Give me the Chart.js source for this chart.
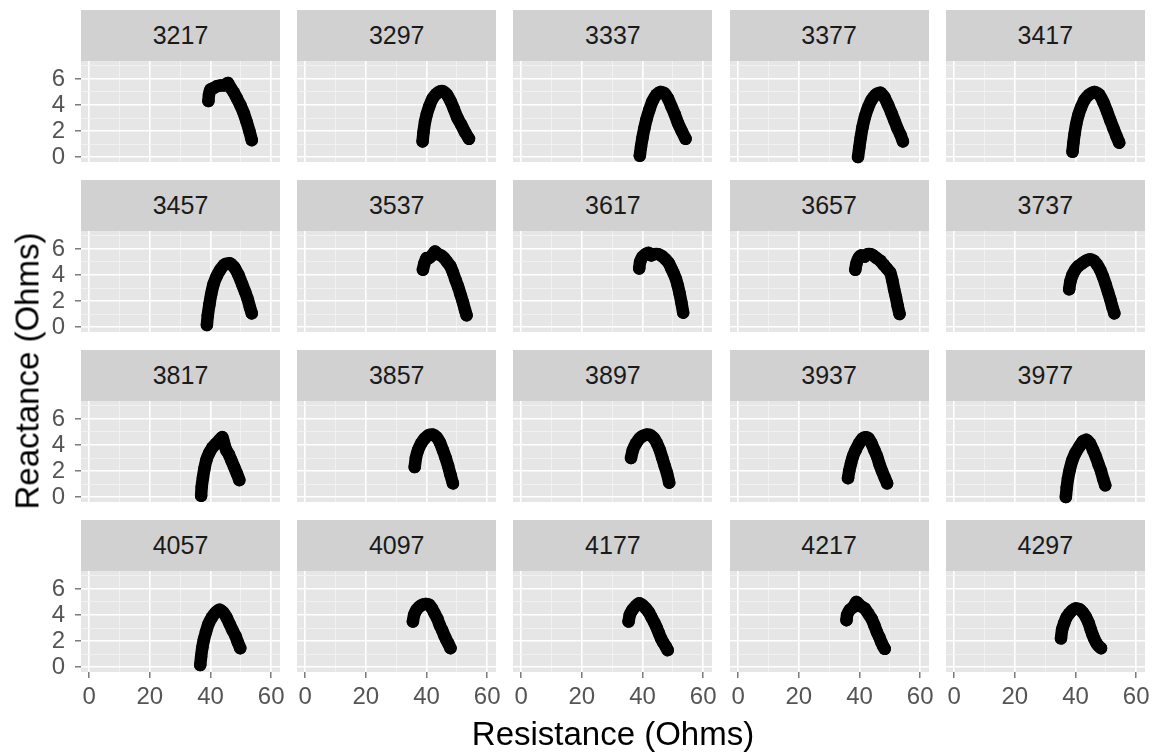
<!DOCTYPE html>
<html>
<head>
<meta charset="utf-8">
<script src="https://cdn.jsdelivr.net/npm/chart.js@4/dist/chart.umd.min.js"></script>
<style>
  body { margin: 0; background: #fff; width: 1164px; height: 753px; position: relative; overflow: hidden;
         font-family: "Liberation Sans", Arial, sans-serif; }
  .strip { position: absolute; background: #D1D1D1; color: #1A1A1A; font-size: 25px;
           display: flex; align-items: center; justify-content: center; }
  .panel { position: absolute; }
  .title { position: absolute; color: #000; font-size: 33px; line-height: 1; white-space: nowrap; }
</style>
</head>
<body>
<div id="wrap"></div>
<div class="title" id="xTitle" style="left:613px;top:733px;transform:translate(-50%,-50%)">Resistance (Ohms)</div>
<div class="title" id="yTitle" style="left:27px;top:371px;transform:translate(-50%,-50%) rotate(-90deg)">Reactance (Ohms)</div>
<script>
// ***** Data *****
const panelIds = ['3217', '3297', '3337', '3377', '3417',
                  '3457', '3537', '3617', '3657', '3737',
                  '3817', '3857', '3897', '3937', '3977',
                  '4057', '4097', '4177', '4217', '4297'];

// Resistance (Ohms) per panel, same order as panelIds
const resistance = [
  [39.3, 39.5, 40.0, 41.0, 42.2, 43.3, 44.5, 45.7, 46.7, 47.7, 48.7, 49.8, 50.9, 51.9, 52.8, 53.6],
  [38.7, 39.0, 39.5, 40.1, 40.9, 42.0, 43.2, 44.5, 45.5, 46.7, 47.9, 49.0, 50.2, 51.4, 52.7, 54.0],
  [39.1, 39.5, 40.0, 40.6, 41.3, 42.2, 43.3, 44.6, 46.0, 47.2, 48.4, 49.5, 50.6, 51.7, 52.9, 54.2],
  [39.5, 39.9, 40.4, 41.0, 41.8, 42.8, 44.0, 45.4, 46.9, 48.2, 49.4, 50.5, 51.5, 52.5, 53.5, 54.3],
  [39.0, 39.3, 39.7, 40.2, 40.9, 41.8, 43.0, 44.5, 46.3, 47.8, 49.2, 50.4, 51.5, 52.5, 53.5, 54.4],
  [38.8, 39.1, 39.6, 40.2, 41.0, 42.0, 43.2, 44.6, 46.3, 47.8, 49.2, 50.4, 51.4, 52.3, 53.0, 53.6],
  [38.8, 39.3, 40.0, 40.8, 41.8, 42.8, 43.8, 44.8, 45.8, 46.8, 47.8, 48.7, 49.6, 50.4, 51.2, 52.0, 52.7, 53.2],
  [38.9, 39.2, 40.0, 41.0, 42.0, 42.9, 44.0, 45.2, 46.4, 47.6, 48.7, 49.5, 50.3, 51.0, 51.6, 52.2, 52.8, 53.4],
  [38.6, 39.0, 39.7, 40.6, 41.6, 42.6, 43.6, 44.5, 45.6, 46.8, 47.9, 49.0, 50.1, 50.8, 51.4, 52.0, 52.6, 53.2],
  [37.9, 38.3, 39.0, 39.9, 41.0, 42.2, 43.5, 44.8, 46.0, 47.1, 48.1, 49.0, 49.9, 50.7, 51.5, 52.2, 52.8],
  [36.9, 37.1, 37.5, 38.0, 38.7, 39.6, 40.6, 41.8, 43.0, 43.9, 44.5, 45.2, 46.0, 46.9, 47.8, 48.7, 49.5],
  [36.1, 36.5, 37.2, 38.2, 39.4, 40.7, 42.1, 43.3, 44.4, 45.4, 46.3, 47.1, 47.9, 48.7],
  [36.2, 36.8, 37.8, 39.0, 40.2, 41.4, 42.6, 43.8, 44.8, 45.7, 46.5, 47.3, 48.1, 48.8],
  [36.2, 36.6, 37.2, 37.8, 38.7, 39.8, 41.0, 42.0, 43.0, 44.0, 44.9, 45.8, 46.6, 47.4, 48.3, 49.1],
  [36.8, 37.1, 37.5, 38.1, 38.9, 40.0, 41.3, 42.5, 43.6, 44.8, 45.8, 46.7, 47.6, 48.4, 49.1, 49.8],
  [36.6, 36.9, 37.3, 37.8, 38.5, 39.3, 40.4, 41.7, 43.0, 44.2, 45.3, 46.3, 47.3, 48.2, 49.0, 49.8],
  [35.5, 35.9, 36.7, 37.7, 38.8, 39.8, 40.8, 41.8, 42.7, 43.6, 44.4, 45.2, 45.9, 46.5, 47.2, 47.9],
  [35.4, 35.8, 36.7, 37.8, 38.9, 40.0, 41.1, 42.1, 43.0, 43.9, 44.7, 45.4, 46.1, 46.8, 47.6, 48.3],
  [35.7, 35.9, 36.8, 37.9, 39.0, 40.3, 41.7, 42.9, 44.0, 44.9, 45.7, 46.5, 47.2, 47.8, 48.3],
  [35.2, 35.6, 36.3, 37.0, 37.9, 38.9, 40.1, 41.3, 42.4, 43.4, 44.3, 45.0, 45.6, 46.3, 47.0, 47.7, 48.4]
];

// Reactance (Ohms) per panel
const reactance = [
  [4.3, 4.8, 5.2, 5.3, 5.45, 5.5, 5.5, 5.7, 5.3, 4.95, 4.5, 4.0, 3.4, 2.7, 2.0, 1.3],
  [1.2, 1.9, 2.7, 3.3, 3.9, 4.5, 4.85, 5.05, 5.05, 4.8, 4.3, 3.7, 3.0, 2.5, 1.9, 1.4],
  [0.1, 0.8, 1.5, 2.2, 2.9, 3.6, 4.3, 4.8, 5.0, 4.9, 4.5, 3.9, 3.3, 2.6, 2.0, 1.4],
  [0.0, 0.7, 1.5, 2.3, 3.1, 3.8, 4.4, 4.8, 4.95, 4.6, 4.0, 3.4, 2.8, 2.2, 1.7, 1.2],
  [0.4, 1.1, 1.8, 2.5, 3.2, 3.8, 4.4, 4.8, 5.0, 4.8, 4.2, 3.5, 2.8, 2.2, 1.6, 1.1],
  [0.15, 0.9, 1.7, 2.5, 3.3, 3.9, 4.4, 4.8, 4.9, 4.6, 4.0, 3.3, 2.7, 2.1, 1.5, 1.05],
  [4.4, 4.9, 5.3, 5.3, 5.5, 5.8, 5.6, 5.5, 5.3, 5.0, 4.7, 4.2, 3.6, 3.1, 2.5, 1.9, 1.3, 0.9],
  [4.5, 5.0, 5.4, 5.6, 5.7, 5.5, 5.6, 5.6, 5.45, 5.2, 4.9, 4.5, 4.1, 3.7, 3.2, 2.6, 1.9, 1.1],
  [4.4, 4.9, 5.3, 5.5, 5.4, 5.6, 5.6, 5.5, 5.3, 5.1, 4.8, 4.5, 4.2, 3.6, 2.9, 2.3, 1.6, 1.0],
  [2.9, 3.5, 4.0, 4.4, 4.7, 4.9, 5.1, 5.2, 5.1, 4.8, 4.4, 3.9, 3.3, 2.7, 2.1, 1.5, 1.05],
  [0.1, 0.8, 1.5, 2.2, 2.9, 3.4, 3.8, 4.1, 4.4, 4.6, 4.1, 3.6, 3.3, 2.8, 2.3, 1.8, 1.3],
  [2.3, 3.0, 3.6, 4.1, 4.5, 4.75, 4.8, 4.6, 4.2, 3.6, 3.0, 2.4, 1.7, 1.05],
  [3.0, 3.6, 4.1, 4.5, 4.7, 4.8, 4.75, 4.5, 4.1, 3.6, 3.0, 2.4, 1.8, 1.1],
  [1.45, 2.0, 2.6, 3.1, 3.6, 4.1, 4.5, 4.6, 4.5, 4.1, 3.6, 3.1, 2.5, 2.0, 1.5, 1.05],
  [0.0, 0.7, 1.4, 2.1, 2.8, 3.4, 3.9, 4.3, 4.4, 4.1, 3.6, 3.1, 2.5, 2.0, 1.4, 0.9],
  [0.15, 0.8, 1.5, 2.1, 2.7, 3.3, 3.8, 4.2, 4.4, 4.2, 3.8, 3.3, 2.8, 2.4, 1.9, 1.45],
  [3.5, 4.0, 4.4, 4.65, 4.8, 4.85, 4.8, 4.5, 4.1, 3.7, 3.2, 2.8, 2.4, 2.1, 1.8, 1.45],
  [3.5, 4.0, 4.4, 4.7, 4.9, 4.75, 4.5, 4.2, 3.8, 3.4, 3.0, 2.6, 2.2, 1.9, 1.6, 1.3],
  [3.6, 4.0, 4.4, 4.6, 5.0, 4.7, 4.5, 4.1, 3.7, 3.2, 2.7, 2.3, 1.9, 1.6, 1.4],
  [2.2, 2.9, 3.4, 3.8, 4.1, 4.35, 4.5, 4.45, 4.2, 3.85, 3.4, 2.9, 2.5, 2.1, 1.8, 1.6, 1.45]
];

// Axis ticks (labelled) and grid lines
const xTickLabels = [0, 20, 40, 60];
const yTickLabels = [0, 2, 4, 6];
const xGrid = [0, 10, 20, 30, 40, 50, 60];
const yGrid = [0, 1, 2, 3, 4, 5, 6, 7];

// ***** Layout *****
const nCols = 5;
const plotW = 199, plotH = 101, stripH = 51;
const colStep = 216.2, rowStep = 170;
const firstLeft = 81, firstTop = 10;
const padL = 70, padR = 22, padB = 46;
const tickFont = { family: '"Liberation Sans", Arial, sans-serif', size: 24 };

const panelBg = {
  id: 'panelBg',
  beforeDraw(chart) {
    const { ctx, chartArea: a } = chart;
    ctx.save();
    ctx.fillStyle = '#E6E6E6';
    ctx.fillRect(a.left, a.top, a.width, a.height);
    ctx.restore();
  }
};

const gridOpts = (labels, showTicks) => ({
  color: (c) => labels.includes(c.tick.value) ? '#FFFFFF' : '#F2F2F2',
  lineWidth: (c) => labels.includes(c.tick.value) ? 1.6 : 0.9,
  drawTicks: showTicks,
  tickLength: 6,
  tickWidth: 1.3,
  tickColor: (c) => labels.includes(c.tick.value) ? '#666' : 'rgba(0,0,0,0)'
});

// keep every panel's plot area the same size, whatever labels it shows
const fixAxis = (s, size) => {
  if (s.isHorizontal()) s.height = size; else s.width = size;
  s.paddingTop = 0;
  s.paddingBottom = 0;
  s.paddingLeft = 0;
  s.paddingRight = 0;
};

const wrap = document.getElementById('wrap');

panelIds.forEach((id, i) => {
  const col = i % nCols;
  const row = Math.floor(i / nCols);
  const left = firstLeft + col * colStep;
  const stripTop = firstTop + row * rowStep;
  const plotTop = stripTop + stripH;
  const isLeft = col === 0;
  const isBottom = row === Math.floor((panelIds.length - 1) / nCols);

  const strip = document.createElement('div');
  strip.className = 'strip';
  strip.style.cssText = `left:${left}px;top:${stripTop}px;width:${plotW}px;height:${stripH}px`;
  strip.textContent = id;
  wrap.appendChild(strip);

  const box = document.createElement('div');
  box.className = 'panel';
  const w = plotW + padL + padR, h = plotH + padB;
  box.style.cssText = `left:${left - padL}px;top:${plotTop}px;width:${w}px;height:${h}px`;
  const canvas = document.createElement('canvas');
  canvas.width = w;
  canvas.height = h;
  box.appendChild(canvas);
  wrap.appendChild(box);

  const points = resistance[i].map((r, k) => ({ x: r, y: reactance[i][k] }));

  new Chart(canvas, {
    type: 'scatter',
    data: {
      datasets: [{
        data: points,
        showLine: true,
        borderColor: '#000',
        backgroundColor: '#000',
        borderWidth: 12.5,
        borderCapStyle: 'round',
        borderJoinStyle: 'round',
        tension: 0.2,
        pointRadius: 6.2,
        pointBorderWidth: 0,
        pointHoverRadius: 6.2,
        clip: 8
      }]
    },
    options: {
      responsive: false,
      animation: false,
      events: [],
      layout: { autoPadding: false, padding: { left: 0, right: padR, top: 0, bottom: 0 } },
      plugins: { legend: { display: false }, tooltip: { enabled: false } },
      scales: {
        x: {
          type: 'linear', min: -2.7, max: 62.9,
          afterBuildTicks: (s) => { s.ticks = xGrid.map((v) => ({ value: v })); },
          afterFit: (s) => fixAxis(s, padB),
          border: { display: false },
          grid: gridOpts(xTickLabels, isBottom),
          ticks: {
            display: isBottom, autoSkip: false, maxRotation: 0, padding: 5,
            color: '#555', font: tickFont,
            callback: (v) => xTickLabels.includes(v) ? String(v) : ''
          }
        },
        y: {
          type: 'linear', min: -0.38, max: 7.38,
          afterBuildTicks: (s) => { s.ticks = yGrid.map((v) => ({ value: v })); },
          afterFit: (s) => fixAxis(s, padL),
          border: { display: false },
          grid: gridOpts(yTickLabels, isLeft),
          ticks: {
            display: isLeft, autoSkip: false, padding: 10,
            color: '#555', font: tickFont,
            callback: (v) => yTickLabels.includes(v) ? String(v) : ''
          }
        }
      }
    },
    plugins: [panelBg]
  });
});
</script>
</body>
</html>
